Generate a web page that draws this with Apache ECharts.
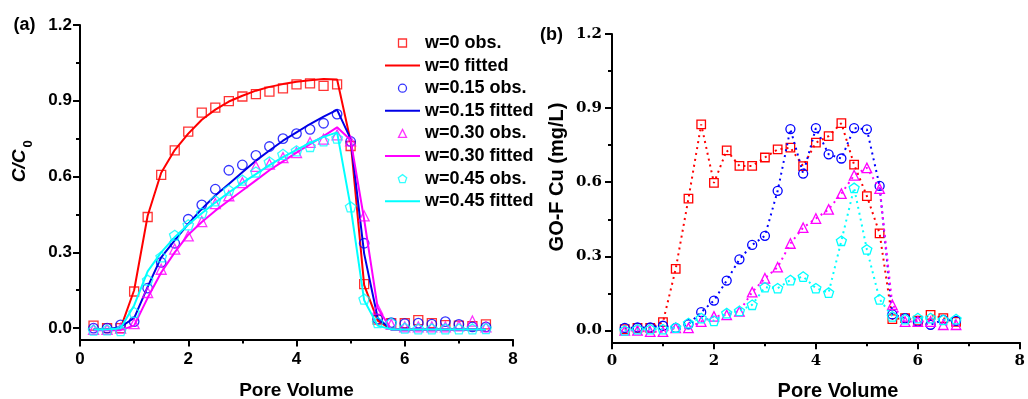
<!DOCTYPE html>
<html><head><meta charset="utf-8">
<script src="https://cdn.jsdelivr.net/npm/echarts@6/dist/echarts.min.js"></script>
<style>html,body{margin:0;padding:0;background:#fff}#c{width:1028px;height:399px}</style>
</head><body><div id="c"></div>
<script>
// ---------- data ----------
const pvA = [0.25,0.5,0.75,1.0,1.25,1.5,1.75,2.0,2.25,2.5,2.75,3.0,3.25,3.5,3.75,4.0,4.25,4.5,4.75,5.0,5.25,5.5,5.75,6.0,6.25,6.5,6.75,7.0,7.25,7.5];
const obsA_w0  = [0.01,0.0,0.0,0.145,0.44,0.607,0.704,0.778,0.853,0.873,0.899,0.917,0.926,0.936,0.949,0.965,0.969,0.959,0.965,0.721,0.174,0.034,0.02,0.02,0.032,0.02,0.012,0.01,0.008,0.015];
const obsA_w15 = [0.0,0.0,0.013,0.026,0.158,0.26,0.336,0.431,0.488,0.55,0.625,0.646,0.684,0.719,0.75,0.77,0.787,0.811,0.847,0.739,0.336,0.036,0.022,0.018,0.02,0.016,0.026,0.015,0.005,0.005];
const obsA_w30 = [-0.005,-0.005,0.0,0.018,0.141,0.233,0.313,0.365,0.422,0.493,0.524,0.576,0.64,0.649,0.675,0.695,0.735,0.748,0.765,0.741,0.444,0.075,0.015,0.005,0.005,0.005,0.005,0.009,0.028,0.005];
const obsA_w45 = [-0.008,-0.007,-0.01,0.062,0.19,0.282,0.368,0.409,0.456,0.504,0.546,0.586,0.618,0.658,0.688,0.702,0.719,0.741,0.752,0.48,0.115,0.022,0.02,0.0,-0.003,-0.003,-0.003,-0.003,-0.003,-0.002];
const fitA_w0  = [-0.005,-0.005,0.0,0.15,0.445,0.615,0.705,0.77,0.825,0.865,0.897,0.92,0.94,0.955,0.966,0.975,0.981,0.986,0.984,0.74,0.17,0.03,-0.005,-0.005,-0.005,-0.005,-0.005,-0.005,-0.005,-0.005];
const fitA_w15 = [-0.005,-0.005,0.005,0.04,0.163,0.28,0.347,0.413,0.472,0.525,0.571,0.617,0.663,0.703,0.742,0.775,0.808,0.837,0.864,0.749,0.295,0.04,-0.005,-0.005,-0.005,-0.005,-0.005,-0.005,-0.005,-0.005];
const fitA_w30 = [-0.008,-0.008,-0.008,0.01,0.12,0.22,0.3,0.37,0.42,0.465,0.505,0.545,0.585,0.625,0.66,0.695,0.728,0.76,0.795,0.745,0.43,0.08,-0.005,-0.005,-0.005,-0.005,-0.005,-0.005,-0.005,-0.005];
const fitA_w45 = [-0.005,-0.005,0.0,0.09,0.225,0.3,0.36,0.41,0.455,0.497,0.537,0.575,0.61,0.645,0.677,0.706,0.733,0.757,0.775,0.48,0.11,0.01,-0.005,-0.005,-0.005,-0.005,-0.005,-0.005,-0.005,-0.005];

const pvB = [0.25,0.5,0.75,1.0,1.25,1.5,1.75,2.0,2.25,2.5,2.75,3.0,3.25,3.5,3.75,4.0,4.25,4.5,4.75,5.0,5.25,5.5,5.75,6.0,6.25,6.5,6.75];
const obsB_w0  = [0.005,0.01,0.01,0.034,0.249,0.534,0.834,0.597,0.729,0.666,0.666,0.70,0.733,0.74,0.665,0.76,0.787,0.839,0.671,0.544,0.393,0.046,0.05,0.04,0.063,0.05,0.035];
const obsB_w15 = [0.01,0.012,0.012,0.019,0.01,0.025,0.074,0.121,0.202,0.288,0.346,0.383,0.565,0.815,0.635,0.819,0.713,0.696,0.819,0.814,0.585,0.065,0.05,0.036,0.023,0.043,0.039];
const obsB_w30 = [0.0,0.0,-0.005,-0.005,0.01,0.01,0.036,0.057,0.063,0.077,0.155,0.211,0.256,0.352,0.416,0.453,0.49,0.554,0.628,0.658,0.574,0.104,0.036,0.036,0.036,0.023,0.023];
const obsB_w45 = [0.0,0.005,0.005,0.005,0.012,0.03,0.05,0.039,0.07,0.079,0.104,0.175,0.171,0.204,0.218,0.171,0.153,0.363,0.577,0.328,0.126,0.057,0.046,0.05,0.05,0.043,0.046];

const yMajor = [0, 0.3, 0.6, 0.9, 1.2];
const yMinor = [0.15, 0.45, 0.75, 1.05];
const names = ['w=0 obs.','w=0 fitted','w=0.15 obs.','w=0.15 fitted','w=0.30 obs.','w=0.30 fitted','w=0.45 obs.','w=0.45 fitted'];
const colors = ['#ff0000', '#0000ff', '#ff00ff', '#00ffff'];
const lineColors = ['#ff0000', '#0000e6', '#ff00ff', '#00ffff'];

// ---------- chart ----------
const PENT = 'path://M50,0L97.55,34.55L79.39,90.45L20.61,90.45L2.45,34.55Z';
const symbols = ['rect', 'circle', 'triangle', PENT];
const legendIcons = [
  'path://M0,0L10,0L10,10L0,10Z',
  'path://M5,0A5,5,0,1,1,5,10A5,5,0,1,1,5,0Z',
  'path://M5,0L10,10L0,10Z',
  PENT
];
const LINE_ICON = 'path://M0,0L35,0L35,2L0,2Z';
const symSizeA = [9, 9.5, 10, 10.5];
const symSizeB = [8.5, 9, 9.5, 10];
const SANS = 'Liberation Sans';
const SERIF = 'DejaVu Serif';
const pairs = (xs, ys) => xs.map((x, i) => [x, ys[i]]);

const obsA = [obsA_w0, obsA_w15, obsA_w30, obsA_w45];
const fitA = [fitA_w0, fitA_w15, fitA_w30, fitA_w45];
const obsB = [obsB_w0, obsB_w15, obsB_w30, obsB_w45];

const series = [];
const legendData = [];
for (let k = 0; k < 4; k++) {
  series.push({
    name: names[2*k], type: 'scatter', xAxisIndex: 0, yAxisIndex: 0,
    symbol: symbols[k], symbolSize: symSizeA[k], symbolKeepAspect: true,
    itemStyle: { color: 'rgba(255,255,255,0)', borderColor: colors[k], borderWidth: 1.3 },
    data: pairs(pvA, obsA[k]), z: 2 + 2*k
  });
  series.push({
    name: names[2*k+1], type: 'line', xAxisIndex: 0, yAxisIndex: 0,
    symbol: 'none', showSymbol: false,
    lineStyle: { color: lineColors[k], width: 2 },
    itemStyle: { color: lineColors[k] },
    data: pairs(pvA, fitA[k]), z: 3 + 2*k
  });
  legendData.push({ name: names[2*k], icon: legendIcons[k],
    itemStyle: { color: 'rgba(255,255,255,0)', borderColor: colors[k], borderWidth: 1.3 } });
  legendData.push({ name: names[2*k+1], icon: LINE_ICON,
    itemStyle: { color: lineColors[k], borderWidth: 0 } });
}
for (let k = 0; k < 4; k++) {
  series.push({
    name: 'b ' + names[2*k], type: 'line', xAxisIndex: 1, yAxisIndex: 2,
    symbol: symbols[k], symbolSize: symSizeB[k], symbolKeepAspect: true, showSymbol: true,
    itemStyle: { color: 'rgba(255,255,255,0)', borderColor: colors[k], borderWidth: 1.3 },
    lineStyle: { color: colors[k], width: 2, type: [2, 4] },
    data: pairs(pvB, obsB[k]), z: 2 + k
  });
}

const axisLineStyle = { show: true, onZero: false, lineStyle: { color: '#000', width: 2 } };
function labelStyle(font, size, margin, fmt) {
  return {
    color: '#000', fontFamily: font, fontWeight: 'bold', fontSize: size, margin: margin,
    formatter: fmt
  };
}
function xAxis(gi, font, size, margin) {
  return {
    type: 'value', gridIndex: gi, min: 0, max: 8, interval: 2,
    axisLine: axisLineStyle,
    axisTick: { show: true, length: 7, lineStyle: { color: '#000', width: 2 } },
    minorTick: { show: true, splitNumber: 2, length: 4, lineStyle: { color: '#000', width: 2 } },
    splitLine: { show: false }, minorSplitLine: { show: false },
    axisLabel: labelStyle(font, size, margin, v => String(v))
  };
}
function yAxes(gi, min, font, size, margin) {
  const lab = labelStyle(font, size, margin, v => v.toFixed(1));
  lab.customValues = yMajor;
  return [{
    type: 'value', gridIndex: gi, position: 'left', min: min, max: 1.2,
    axisLine: axisLineStyle,
    axisTick: { show: true, length: 7, customValues: yMajor, lineStyle: { color: '#000', width: 2 } },
    splitLine: { show: false },
    axisLabel: lab
  }, {
    type: 'value', gridIndex: gi, position: 'left', min: min, max: 1.2,
    axisLine: { show: false, onZero: false },
    axisTick: { show: true, length: 4, customValues: yMinor, lineStyle: { color: '#000', width: 2 } },
    splitLine: { show: false },
    axisLabel: { show: false }
  }];
}

function txt(x, y, text, size, opts) {
  opts = opts || {};
  return {
    type: 'text', x: x, y: y, rotation: opts.rot || 0, z: 100,
    style: { text: text, fill: '#000', fontFamily: opts.font || SANS, fontWeight: 'bold',
      fontStyle: opts.italic ? 'italic' : 'normal', fontSize: size,
      align: 'center', verticalAlign: 'middle' }
  };
}

const option = {
  animation: false,
  backgroundColor: '#fff',
  textStyle: { fontFamily: SANS },
  grid: [
    { left: 80, right: 515, top: 25, bottom: 59.5 },
    { left: 612, right: 3, top: 34, bottom: 56.7 }
  ],
  xAxis: [xAxis(0, SANS, 17, 11), xAxis(1, SERIF, 15, 11)],
  yAxis: [].concat(yAxes(0, -0.045, SANS, 17, 8), yAxes(1, -0.048, SERIF, 15, 10)),
  legend: {
    orient: 'vertical', left: 385, top: 34, padding: 0,
    itemWidth: 35, itemHeight: 8, itemGap: 4.6, selectedMode: false,
    symbolKeepAspect: true,
    data: legendData,
    textStyle: { color: '#000', fontFamily: SANS, fontWeight: 'bold', fontSize: 18, lineHeight: 18 }
  },
  graphic: [
    txt(24.5, 25, '(a)', 18),
    txt(551.5, 35, '(b)', 18),
    txt(20, 166, 'C/C', 19, { rot: Math.PI / 2, italic: true }),
    txt(28, 144, '0', 13, { rot: Math.PI / 2 }),
    txt(557, 177, 'GO-F Cu (mg/L)', 20, { rot: Math.PI / 2 }),
    txt(296.5, 391, 'Pore Volume', 19),
    txt(838, 391, 'Pore Volume', 20)
  ],
  series: series
};
const chart = echarts.init(document.getElementById('c'));
chart.setOption(option);
</script></body></html>
